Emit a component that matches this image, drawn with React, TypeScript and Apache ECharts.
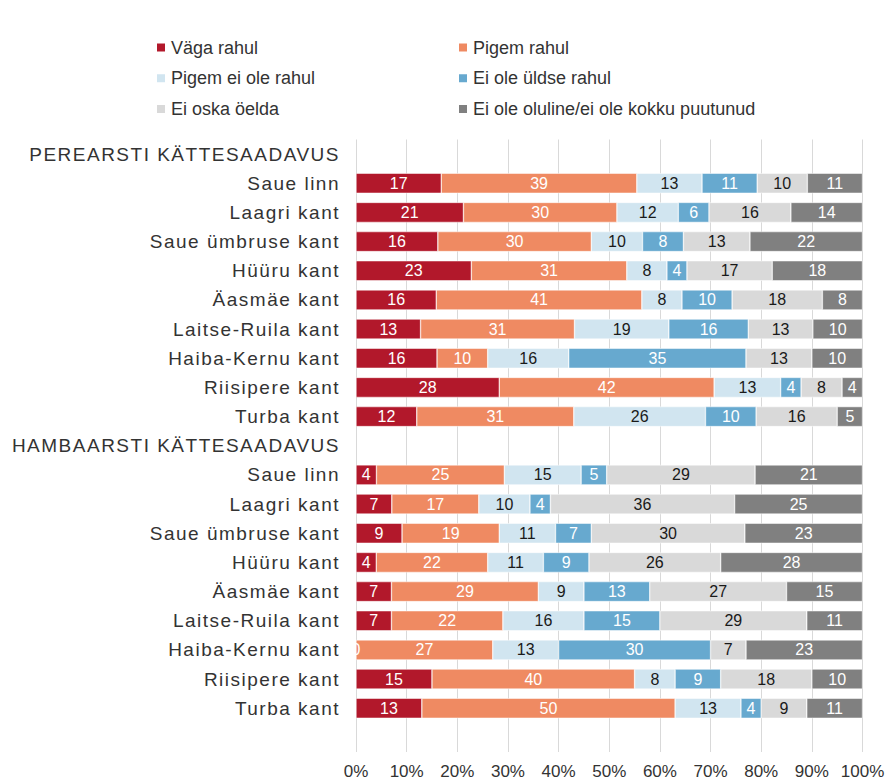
import React, { useEffect, useRef } from 'react';
import * as echarts from 'echarts';

const categories = [
  'PEREARSTI KÄTTESAADAVUS',
  'Saue linn',
  'Laagri kant',
  'Saue ümbruse kant',
  'Hüüru kant',
  'Äasmäe kant',
  'Laitse-Ruila kant',
  'Haiba-Kernu kant',
  'Riisipere kant',
  'Turba kant',
  'HAMBAARSTI KÄTTESAADAVUS',
  'Saue linn',
  'Laagri kant',
  'Saue ümbruse kant',
  'Hüüru kant',
  'Äasmäe kant',
  'Laitse-Ruila kant',
  'Haiba-Kernu kant',
  'Riisipere kant',
  'Turba kant',
  '',
];

const seriesNames = [
  'Väga rahul',
  'Pigem rahul',
  'Pigem ei ole rahul',
  'Ei ole üldse rahul',
  'Ei oska öelda',
  'Ei ole oluline/ei ole kokku puutunud',
];

const vagaRahul = [null, 17, 21, 16, 23, 16, 13, 16, 28, 12, null, 4, 7, 9, 4, 7, 7, 0, 15, 13, null];
const pigemRahul = [null, 39, 30, 30, 31, 41, 31, 10, 42, 31, null, 25, 17, 19, 22, 29, 22, 27, 40, 50, null];
const pigemEiOle = [null, 13, 12, 10, 8, 8, 19, 16, 13, 26, null, 15, 10, 11, 11, 9, 16, 13, 8, 13, null];
const uldseEiOle = [null, 11, 6, 8, 4, 10, 16, 35, 4, 10, null, 5, 4, 7, 9, 13, 15, 30, 9, 4, null];
const eiOska = [null, 10, 16, 13, 17, 18, 13, 13, 8, 16, null, 29, 36, 30, 26, 27, 29, 7, 18, 9, null];
const eiOluline = [null, 11, 14, 22, 18, 8, 10, 10, 4, 5, null, 21, 25, 23, 28, 15, 11, 23, 10, 11, null];

const colors = ['#B2182B', '#EF8A62', '#D1E5F0', '#67A9CF', '#D9D9D9', '#808080'];
const labelColors = ['#ffffff', '#ffffff', '#1a1a1a', '#ffffff', '#1a1a1a', '#ffffff'];

const FONT = '"Liberation Sans", Arial, Helvetica, sans-serif';

export default function App() {
  const ref = useRef<HTMLDivElement>(null);

  useEffect(() => {
    if (!ref.current) return;
    const chart = echarts.init(ref.current, null, { renderer: 'svg' });
    const raw = [vagaRahul, pigemRahul, pigemEiOle, uldseEiOle, eiOska, eiOluline];
    const totals = categories.map((_, i) =>
      raw.reduce((s, arr) => s + ((arr[i] as number | null) ?? 0), 0)
    );

    const series = raw.map((arr, k) => ({
      name: seriesNames[k],
      type: 'bar',
      stack: 'total',
      barWidth: 20,
      data: arr.map((v, i) => (v == null ? '-' : ((v as number) / totals[i]) * 100)),
      itemStyle: { color: colors[k], borderColor: '#ffffff', borderWidth: 0.5 },
      label: {
        show: true,
        position: 'inside',
        color: labelColors[k],
        fontSize: 16,
        fontFamily: FONT,
        formatter: (p: any) => String(arr[p.dataIndex]),
      },
      emphasis: { disabled: true },
    }));

    const legendCommon = {
      orient: 'vertical',
      top: 38.5,
      padding: 0,
      itemWidth: 10,
      itemHeight: 10,
      itemGap: 12.7,
      icon: 'rect',
      textStyle: { fontSize: 18, color: '#333333', fontFamily: FONT, lineHeight: 18 },
      selectedMode: false,
    };

    const option: any = {
      animation: false,
      legend: [
        { ...legendCommon, left: 155, data: [seriesNames[0], seriesNames[2], seriesNames[4]] },
        { ...legendCommon, left: 457, data: [seriesNames[1], seriesNames[3], seriesNames[5]] },
      ],
      grid: { left: 356, right: 25.5, top: 139.5, bottom: 30, containLabel: false },
      xAxis: {
        type: 'value',
        min: 0,
        max: 100,
        interval: 10,
        axisLine: { show: false },
        axisTick: { show: false },
        splitLine: { show: true, lineStyle: { color: '#D9D9D9', width: 1 } },
        axisLabel: {
          formatter: '{value}%',
          fontSize: 17,
          color: '#333333',
          fontFamily: FONT,
          margin: 11,
        },
      },
      yAxis: {
        type: 'category',
        inverse: true,
        data: categories,
        axisLine: { show: false },
        axisTick: { show: false },
        splitLine: { show: false },
        axisLabel: {
          interval: 0,
          fontSize: 19,
          color: '#333333',
          fontFamily: FONT,
          margin: 16,
        },
      },
      series,
    };

    const catSet = new Set(categories.filter(Boolean));
    const applySpacing = () => {
      const root = ref.current;
      if (!root) return;
      root.querySelectorAll('text').forEach((t) => {
        if (catSet.has((t.textContent || '').trim())) t.setAttribute('letter-spacing', '1.5');
      });
    };
    chart.on('finished', applySpacing);
    chart.setOption(option);
    applySpacing();
    const timer = setTimeout(applySpacing, 50);

    return () => {
      clearTimeout(timer);
      chart.dispose();
    };
  }, []);

  return (
    <div
      ref={ref}
      style={{ position: 'fixed', left: 0, top: 0, width: 888, height: 782, background: '#ffffff' }}
    />
  );
}
